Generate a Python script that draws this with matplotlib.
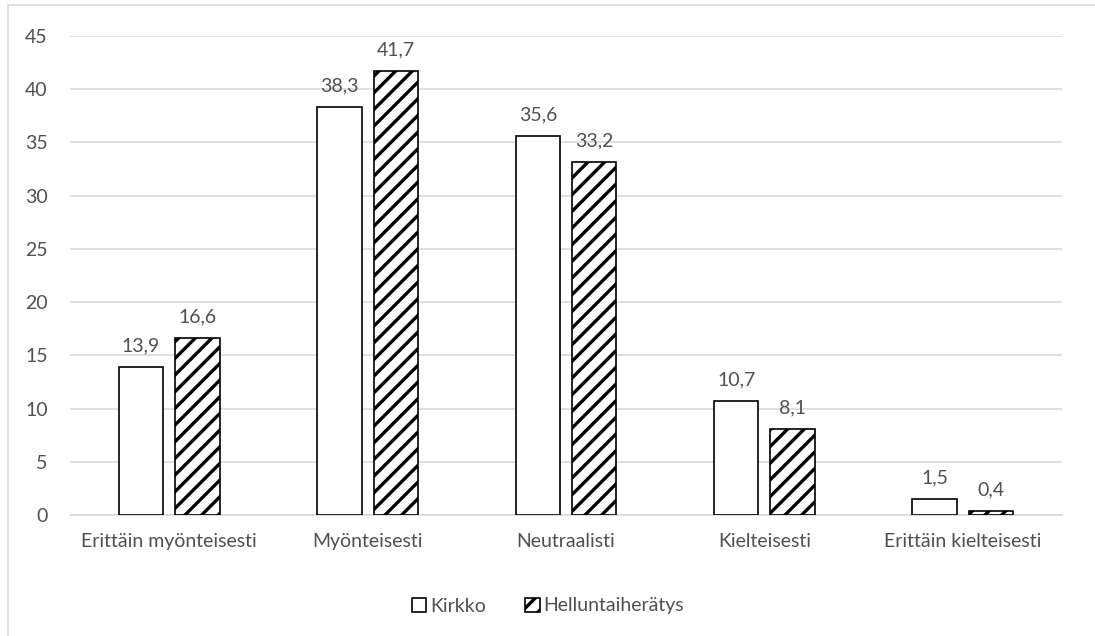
import matplotlib
matplotlib.use("Agg")
import matplotlib.pyplot as plt
import numpy as np
from matplotlib.patches import Rectangle

# Vastausvaihtoehdot ja prosenttiosuudet
categories = ["Erittäin myönteisesti", "Myönteisesti", "Neutraalisti",
              "Kielteisesti", "Erittäin kielteisesti"]
kirkko = [13.9, 38.3, 35.6, 10.7, 1.5]
helluntai = [16.6, 41.7, 33.2, 8.1, 0.4]
series_names = ["Kirkko", "Helluntaiherätys"]
yticks = [0, 5, 10, 15, 20, 25, 30, 35, 40, 45]

plt.rcParams['font.family'] = ['Lato', 'DejaVu Sans']
plt.rcParams['hatch.linewidth'] = 2.4
text_col = '#505050'
fs = 14

fig = plt.figure(figsize=(10.95, 6.36), dpi=100)
ax = fig.add_axes([70 / 1095, 1 - 515 / 636, (1062 - 70) / 1095, (515 - 36) / 636])

x = np.arange(len(categories))
w = 0.224
off = 0.142

b1 = ax.bar(x - off, kirkko, w, facecolor='white', edgecolor='black', linewidth=1.2,
            label=series_names[0], zorder=3)
b2 = ax.bar(x + off, helluntai, w, facecolor='white', edgecolor='black', linewidth=1.2,
            hatch='//', label=series_names[1], zorder=3)

def fmt(v):
    return f"{v:.1f}".replace('.', ',')

for bars, vals in [(b1, kirkko), (b2, helluntai)]:
    for b, v in zip(bars, vals):
        ax.annotate(fmt(v), (b.get_x() + b.get_width() / 2, v),
                    xytext=(0, 9), textcoords='offset points',
                    ha='center', va='bottom', fontsize=fs, color=text_col)

ax.set_xlim(-0.5, len(categories) - 0.5)
ax.set_ylim(0, 45)
ax.set_yticks(yticks)
ax.set_yticklabels([str(t) for t in yticks])
ax.set_xticks(x)
ax.set_xticklabels(categories)
ax.tick_params(axis='both', length=0, labelsize=fs, labelcolor=text_col)
ax.tick_params(axis='y', pad=16)
ax.tick_params(axis='x', pad=13)
ax.grid(axis='y', color='#d9d9d9', linewidth=1.2, zorder=0)
ax.set_axisbelow(True)
for s in ['top', 'right', 'left']:
    ax.spines[s].set_visible(False)
ax.spines['bottom'].set_color('#d9d9d9')
ax.spines['bottom'].set_linewidth(1.2)

leg = fig.legend(handles=[b1, b2], labels=series_names, loc='center',
                 bbox_to_anchor=(548 / 1095, 1 - 606 / 636), ncol=2, frameon=False,
                 fontsize=fs, handlelength=0.75, handleheight=0.75,
                 handletextpad=0.2, columnspacing=2.0, labelcolor=text_col)

# kehys kuvan ympärillä
fig.patches.append(Rectangle((7.5 / 1095, -0.1), 1.2, 1 - 4.5 / 636 + 0.1,
                             transform=fig.transFigure, fill=False,
                             edgecolor='#d9d9d9', linewidth=1.2))

fig.savefig("out.png", dpi=100)
